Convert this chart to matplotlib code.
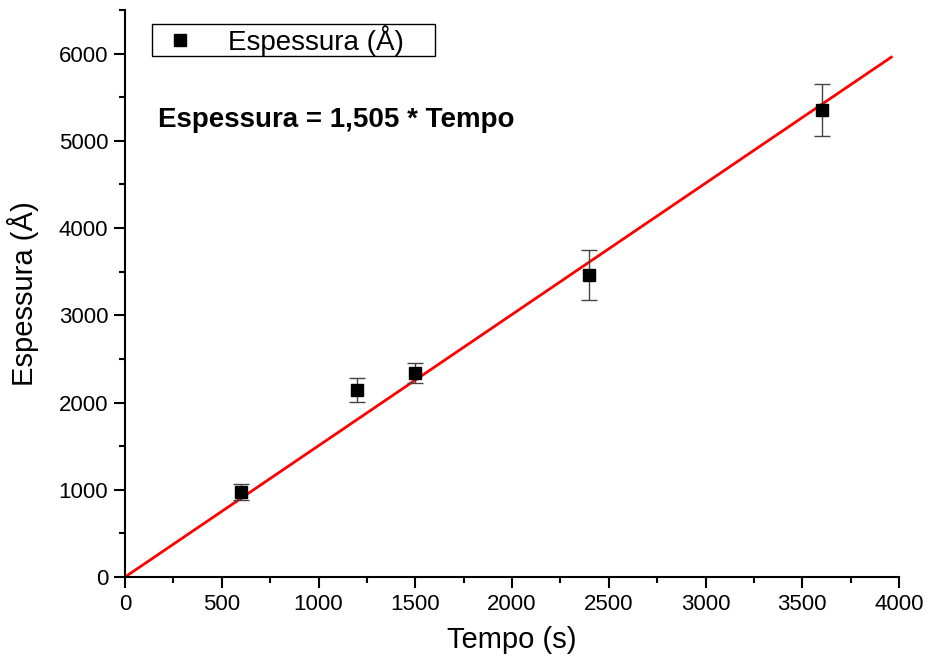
import numpy as np
import matplotlib.pyplot as plt
from matplotlib.lines import Line2D
from matplotlib.ticker import MultipleLocator

plt.rcParams['font.family'] = ['Liberation Sans', 'DejaVu Sans']

# measured data
tempo = [600, 1200, 1500, 2400, 3600]
espessura = [975, 2145, 2340, 3465, 5350]
erro = [95, 140, 115, 285, 297]

# linear fit through origin
slope = 1.505
fit_x = np.array([0, 3960])

fig = plt.figure(figsize=(9.28, 6.68), dpi=100)
ax = fig.add_axes([0.1347, 0.1362, 0.8341, 0.8488])

ax.plot(fit_x, slope * fit_x, color='red', lw=2, zorder=2)
ax.errorbar(tempo, espessura, yerr=erro, fmt='s', color='black', ms=9,
            ecolor='#444444', elinewidth=1, capsize=6, capthick=1, zorder=3)

ax.set_xlim(0, 4000)
ax.set_ylim(0, 6500)
ax.xaxis.set_major_locator(MultipleLocator(500))
ax.xaxis.set_minor_locator(MultipleLocator(250))
ax.yaxis.set_major_locator(MultipleLocator(1000))
ax.yaxis.set_minor_locator(MultipleLocator(500))
ax.tick_params(which='major', direction='out', length=8, width=1.5, labelsize=16, pad=4)
ax.tick_params(which='minor', direction='out', length=4, width=1.5)

for s in ['top', 'right']:
    ax.spines[s].set_visible(False)
for s in ['left', 'bottom']:
    ax.spines[s].set_linewidth(1.5)

ax.set_xlabel('Tempo (s)', fontsize=21, labelpad=8)
ax.set_ylabel('Espessura (Å)', fontsize=21, labelpad=14)

ax.text(170, 5240, 'Espessura = 1,505 * Tempo', fontsize=20, fontweight='bold',
        va='center', ha='left')

handle = Line2D([], [], marker='s', ls='none', color='black', ms=9)
leg = ax.legend([handle], ['Espessura (Å)    '], loc='upper left',
                bbox_to_anchor=(0.035, 0.975), borderaxespad=0, fontsize=20,
                fancybox=False, framealpha=1, edgecolor='black',
                borderpad=0.02, handletextpad=0.7)
leg.get_frame().set_linewidth(1)

fig.savefig('out.png', dpi=100)
